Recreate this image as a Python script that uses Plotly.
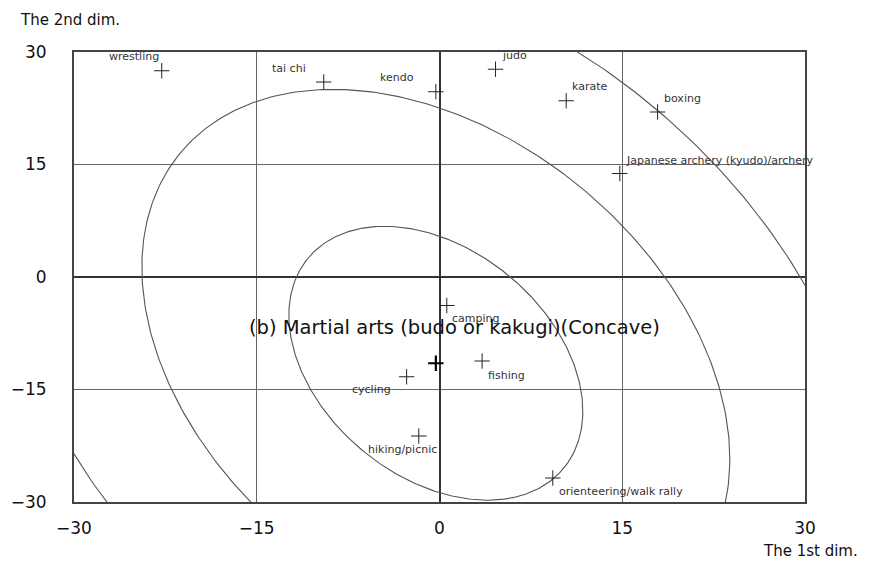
import numpy as np
import plotly.graph_objects as go

# sports positions on the two MDS dimensions
sports = [
    "wrestling", "tai chi", "kendo", "judo", "karate", "boxing",
    "Japanese archery (kyudo)/archery", "rugby", "camping", "fishing",
    "cycling", "hiking/picnic", "orienteering/walk rally", "walking",
]
dim1 = [-22.8, -9.5, -0.3, 4.6, 10.4, 17.9, 14.8, -30.5, 0.6, 3.5, -2.7, -1.7, 9.3, 1.0]
dim2 = [27.5, 26.0, 24.7, 27.7, 23.5, 22.0, 13.8, 10.0, -3.8, -11.2, -13.3, -21.2, -26.8, -30.8]

# ideal point and its concave preference contours (ellipses)
ideal_x = -0.3
ideal_y = -11.5
ell_major = 19.0
ell_minor = 10.86
ell_angle = -70.3
contour_levels = [1.0, 2.0, 2.95]

tick_vals = [-30, -15, 0, 15, 30]

# label placement (pixels relative to marker)
lab_anchor = ["right", "right", "right", "left", "left", "left", "left", "left",
              "left", "left", "right", "right", "left", "left"]
lab_dx = [-1, -16, -20, 4, 4, 4, 4, 5, 3, 4, -14, 20, 4, 4]
lab_dy = [14, 14, 14, 14, 14, 14, 13, 13, -13, -14, -13, -13, -13, -12]

FONT = "DejaVu Sans, sans-serif"

fig = go.Figure()

th = np.deg2rad(ell_angle)
t = np.linspace(0, 2 * np.pi, 400)
for k in contour_levels:
    u = k * ell_major * np.cos(t)
    v = k * ell_minor * np.sin(t)
    fig.add_trace(go.Scatter(
        x=ideal_x + u * np.cos(th) - v * np.sin(th),
        y=ideal_y + u * np.sin(th) + v * np.cos(th),
        mode="lines", line=dict(color="#555555", width=1.1),
        hoverinfo="skip", showlegend=False,
    ))

fig.add_trace(go.Scatter(
    x=dim1, y=dim2, mode="markers", text=sports,
    marker=dict(symbol="cross-thin", size=11, line=dict(color="#222222", width=1)),
    cliponaxis=False, showlegend=False,
))
fig.add_trace(go.Scatter(
    x=[ideal_x], y=[ideal_y], mode="markers",
    marker=dict(symbol="cross-thin", size=11, line=dict(color="#000000", width=2.2)),
    cliponaxis=False, showlegend=False,
))

for name, x, y, anc, dx, dy in zip(sports, dim1, dim2, lab_anchor, lab_dx, lab_dy):
    fig.add_annotation(
        x=x, y=y, text=name, showarrow=False,
        xanchor=anc, yanchor="middle", xshift=dx, yshift=dy,
        font=dict(family=FONT, size=11, color="#333333"),
    )

fig.add_annotation(
    x=1.27, y=-6.7, text="(b) Martial arts (budo or kakugi)(Concave)",
    showarrow=False, xanchor="center", yanchor="middle",
    font=dict(family=FONT, size=19.5, color="#111111"),
)
fig.add_annotation(
    xref="paper", yref="paper", x=-0.077, y=1.071, text="The 2nd dim.",
    showarrow=False, xanchor="left", yanchor="middle",
    font=dict(family=FONT, size=15, color="#111111"),
)
fig.add_annotation(
    xref="paper", yref="paper", x=1.075, y=-0.109, text="The 1st dim.",
    showarrow=False, xanchor="right", yanchor="middle",
    font=dict(family=FONT, size=15, color="#111111"),
)

axis_common = dict(
    tickvals=tick_vals, showgrid=True, gridcolor="#666666", gridwidth=1,
    zeroline=True, zerolinecolor="#333333", zerolinewidth=2,
    showline=True, linecolor="#444444", linewidth=2, mirror=True,
    ticks="", automargin=False,
    tickfont=dict(family=FONT, size=17, color="#111111"),
)

# page body adds an 8px margin, so the figure is 8px smaller than the window
fig.update_layout(
    width=872, height=560,
    margin=dict(l=66, r=75, t=44, b=66),
    plot_bgcolor="white", paper_bgcolor="white",
    xaxis=dict(range=[-30, 30], ticklabelstandoff=10, **axis_common),
    yaxis=dict(range=[-30, 30], ticklabelstandoff=22, **axis_common),
    showlegend=False,
)

fig.write_html("out.html")
